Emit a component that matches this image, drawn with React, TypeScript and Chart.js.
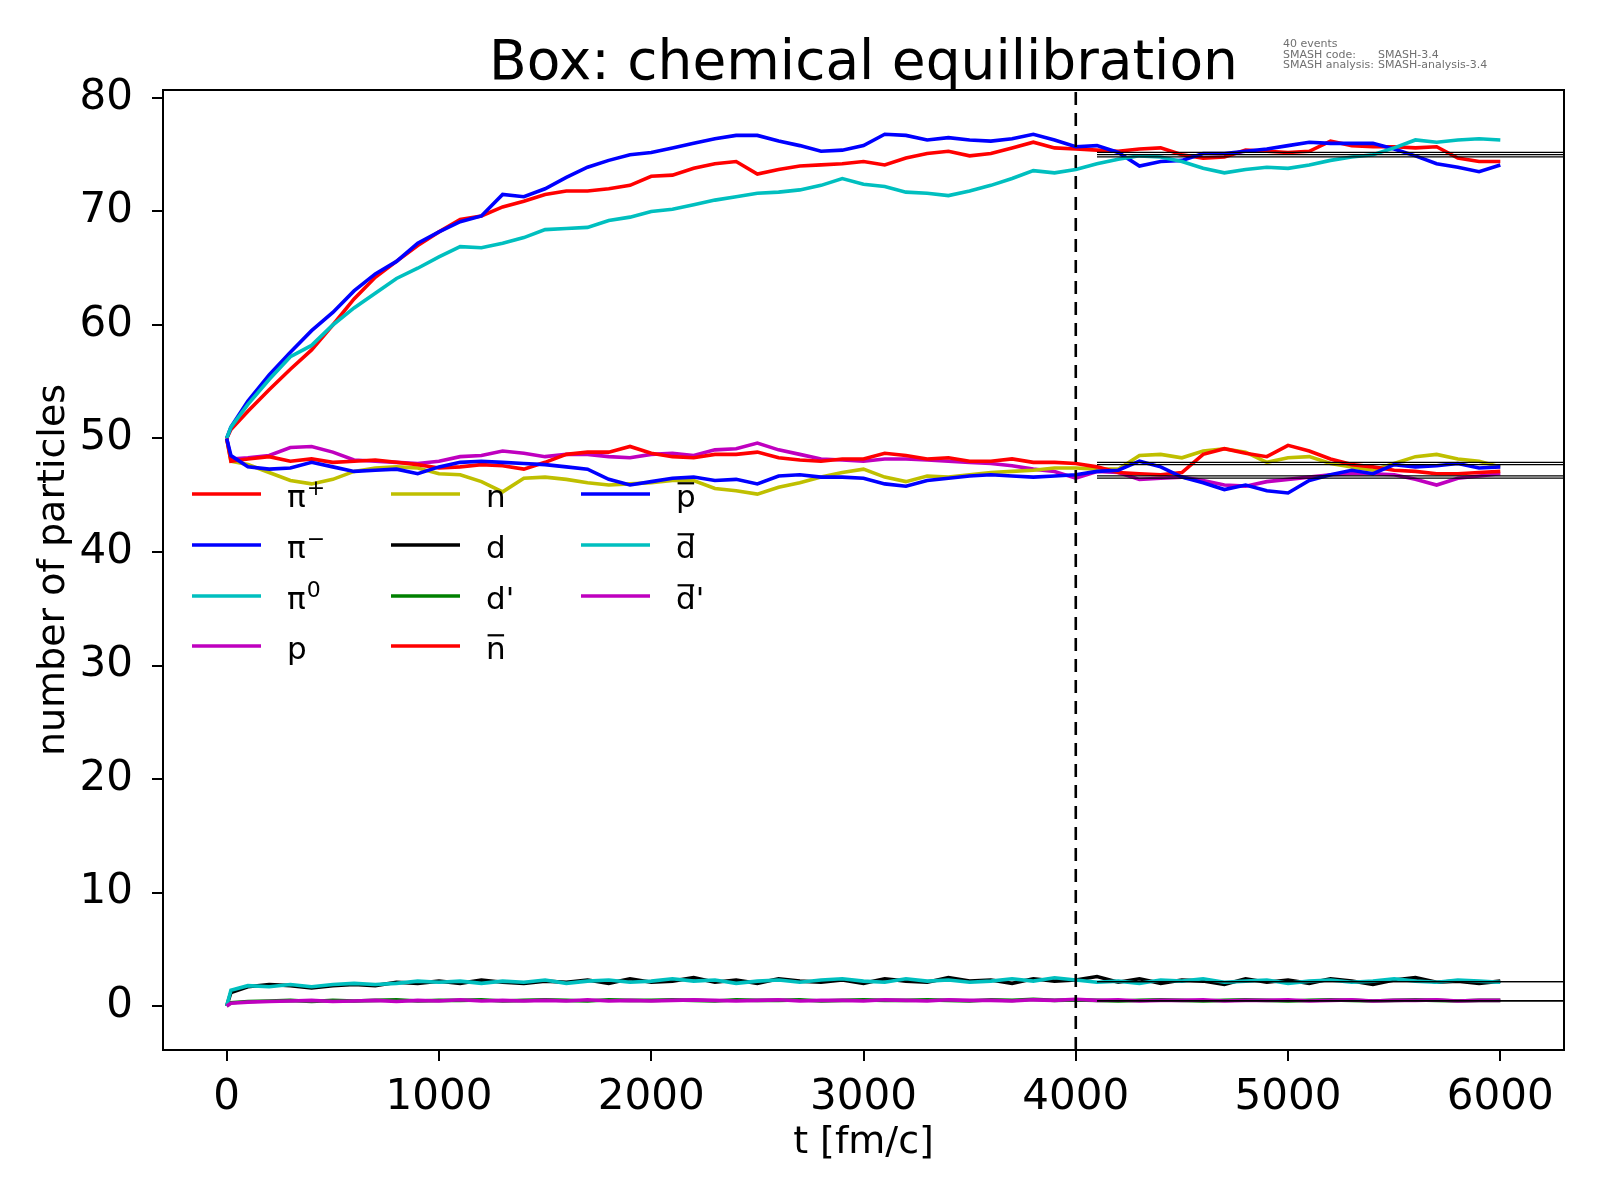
import { useEffect, useRef } from "react";
import { Chart, registerables } from "chart.js";

Chart.register(...registerables);

// time axis (fm/c)
const times = [
  0, 20,
  100, 200, 300, 400, 500, 600, 700, 800, 900, 1000,
  1100, 1200, 1300, 1400, 1500, 1600, 1700, 1800, 1900, 2000,
  2100, 2200, 2300, 2400, 2500, 2600, 2700, 2800, 2900, 3000,
  3100, 3200, 3300, 3400, 3500, 3600, 3700, 3800, 3900, 4000,
  4100, 4200, 4300, 4400, 4500, 4600, 4700, 4800, 4900, 5000,
  5100, 5200, 5300, 5400, 5500, 5600, 5700, 5800, 5900, 6000,
];

const piPlus = [
  50, 50.8,
  52.4, 54.3, 56.1, 57.8, 60.0, 62.3, 64.2, 65.6, 67.0, 68.2,
  69.3, 69.6, 70.4, 70.9, 71.5, 71.8, 71.8, 72.0, 72.3, 73.1,
  73.2, 73.8, 74.2, 74.4, 73.3, 73.7, 74.0, 74.1, 74.2, 74.4,
  74.1, 74.7, 75.1, 75.3, 74.9, 75.1, 75.6, 76.1, 75.6, 75.5,
  75.4, 75.3, 75.5, 75.6, 75.0, 74.7, 74.8, 75.4, 75.3, 75.2,
  75.3, 76.2, 75.8, 75.7, 75.7, 75.6, 75.7, 74.7, 74.4, 74.4,
];
const piMinus = [
  50, 51.0,
  53.3, 55.6, 57.6, 59.5, 61.1, 63.0, 64.5, 65.6, 67.2, 68.2,
  69.1, 69.6, 71.5, 71.3, 72.0, 73.0, 73.9, 74.5, 75.0, 75.2,
  75.6, 76.0, 76.4, 76.7, 76.7, 76.2, 75.8, 75.3, 75.4, 75.8,
  76.8, 76.7, 76.3, 76.5, 76.3, 76.2, 76.4, 76.8, 76.3, 75.7,
  75.8, 75.2, 74.0, 74.4, 74.5, 75.1, 75.1, 75.3, 75.5, 75.8,
  76.1, 76.0, 76.0, 76.0, 75.5, 74.9, 74.2, 73.9, 73.5, 74.1,
];
const piZero = [
  50, 51.0,
  53.0, 55.2, 57.2, 58.2, 60.0, 61.5, 62.8, 64.1, 65.0, 66.0,
  66.9, 66.8, 67.2, 67.7, 68.4, 68.5, 68.6, 69.2, 69.5, 70.0,
  70.2, 70.6, 71.0, 71.3, 71.6, 71.7, 71.9, 72.3, 72.9, 72.4,
  72.2, 71.7, 71.6, 71.4, 71.8, 72.3, 72.9, 73.6, 73.4, 73.7,
  74.2, 74.6, 74.9, 74.8, 74.4, 73.8, 73.4, 73.7, 73.9, 73.8,
  74.1, 74.5, 74.8, 75.0, 75.6, 76.3, 76.1, 76.3, 76.4, 76.3,
];
const proton = [
  50, 48.2,
  48.3, 48.5, 49.2, 49.3, 48.8, 48.1, 48.0, 47.9, 47.8, 48.0,
  48.4, 48.5, 48.9, 48.7, 48.4, 48.6, 48.6, 48.4, 48.3, 48.6,
  48.7, 48.5, 49.0, 49.1, 49.6, 49.0, 48.6, 48.2, 48.1, 48.0,
  48.2, 48.2, 48.1, 48.0, 47.9, 47.8, 47.6, 47.3, 47.1, 46.5,
  47.1, 47.0, 46.4, 46.5, 46.6, 46.3, 45.9, 45.8, 46.2, 46.4,
  46.6, 46.8, 46.9, 46.9, 46.8, 46.4, 45.9, 46.5, 46.7, 46.9,
];
const neutron = [
  50, 48.0,
  47.7, 47.0, 46.3, 46.0, 46.4, 47.1, 47.4, 47.5, 47.4, 46.9,
  46.8, 46.2, 45.3, 46.5, 46.6, 46.4, 46.1, 45.9, 46.0, 46.1,
  46.3, 46.3, 45.6, 45.4, 45.1, 45.7, 46.1, 46.6, 47.0, 47.3,
  46.6, 46.2, 46.7, 46.6, 46.8, 47.0, 47.1, 47.2, 47.4, 47.4,
  47.3, 47.3, 48.5, 48.6, 48.3, 48.9, 49.1, 48.8, 47.9, 48.3,
  48.4, 47.8, 47.5, 47.2, 47.8, 48.4, 48.6, 48.2, 48.0, 47.5,
];
const deuteron = [
  0, 1.2,
  1.7, 1.9, 1.8, 1.6, 1.8, 1.9, 1.8, 2.1, 2.0, 2.2,
  2.0, 2.3, 2.1, 2.0, 2.2, 2.1, 2.3, 2.0, 2.4, 2.1,
  2.2, 2.5, 2.1, 2.3, 2.0, 2.4, 2.2, 2.1, 2.3, 2.0,
  2.4, 2.2, 2.1, 2.5, 2.2, 2.3, 2.0, 2.4, 2.2, 2.3,
  2.6, 2.1, 2.4, 2.0, 2.3, 2.2, 1.9, 2.4, 2.1, 2.3,
  2.0, 2.4, 2.2, 1.9, 2.3, 2.5, 2.1, 2.2, 2.0, 2.2,
];
const deuteronPrime = [
  0, 0.3,
  0.4, 0.45, 0.5, 0.4, 0.5, 0.45, 0.5, 0.55, 0.45, 0.5,
  0.5, 0.55, 0.45, 0.5, 0.55, 0.5, 0.45, 0.55, 0.5, 0.5,
  0.55, 0.5, 0.45, 0.55, 0.5, 0.5, 0.55, 0.45, 0.5, 0.55,
  0.5, 0.5, 0.55, 0.5, 0.45, 0.55, 0.5, 0.6, 0.5, 0.55,
  0.5, 0.45, 0.5, 0.55, 0.5, 0.45, 0.5, 0.55, 0.5, 0.45,
  0.5, 0.55, 0.5, 0.45, 0.5, 0.55, 0.5, 0.45, 0.5, 0.5,
];
const antiNeutron = [
  50, 48.0,
  48.2, 48.4, 48.0, 48.2, 47.9, 48.0, 48.1, 47.9, 47.7, 47.4,
  47.5, 47.7, 47.6, 47.3, 47.9, 48.6, 48.8, 48.8, 49.3, 48.7,
  48.4, 48.3, 48.6, 48.6, 48.8, 48.3, 48.1, 48.0, 48.2, 48.2,
  48.7, 48.5, 48.2, 48.3, 48.0, 48.0, 48.2, 47.9, 47.9, 47.8,
  47.5, 47.0, 46.9, 46.8, 47.0, 48.6, 49.1, 48.7, 48.4, 49.4,
  48.9, 48.2, 47.7, 47.5, 47.2, 47.1, 46.9, 46.9, 47.0, 47.1,
];
const antiProton = [
  50, 48.5,
  47.5, 47.3, 47.4, 47.9, 47.5, 47.1, 47.2, 47.3, 46.9, 47.5,
  47.9, 48.0, 47.9, 47.8, 47.7, 47.5, 47.3, 46.4, 45.9, 46.2,
  46.5, 46.6, 46.3, 46.4, 46.0, 46.7, 46.8, 46.6, 46.6, 46.5,
  46.0, 45.8, 46.3, 46.5, 46.7, 46.8, 46.7, 46.6, 46.7, 46.8,
  47.1, 47.2, 48.0, 47.5, 46.6, 46.1, 45.5, 45.9, 45.4, 45.2,
  46.3, 46.8, 47.2, 46.9, 47.7, 47.5, 47.6, 47.8, 47.4, 47.5,
];
const antiDeuteron = [
  0, 1.4,
  1.8, 1.7, 1.9, 1.7, 1.9, 2.0, 1.9, 2.0, 2.2, 2.1,
  2.2, 2.0, 2.2, 2.1, 2.3, 2.0, 2.2, 2.3, 2.1, 2.2,
  2.4, 2.2, 2.3, 2.0, 2.2, 2.3, 2.1, 2.3, 2.4, 2.2,
  2.1, 2.4, 2.2, 2.3, 2.1, 2.2, 2.4, 2.2, 2.5, 2.3,
  2.1, 2.2, 2.0, 2.3, 2.2, 2.4, 2.1, 2.2, 2.3, 2.0,
  2.2, 2.3, 2.1, 2.2, 2.4, 2.2, 2.1, 2.3, 2.2, 2.1,
];
const antiDeuteronPrime = [
  0, 0.25,
  0.35, 0.4, 0.45, 0.5, 0.4, 0.45, 0.5, 0.4, 0.5, 0.45,
  0.55, 0.45, 0.5, 0.45, 0.5, 0.45, 0.55, 0.45, 0.5, 0.45,
  0.5, 0.55, 0.5, 0.45, 0.5, 0.55, 0.45, 0.5, 0.5, 0.45,
  0.55, 0.5, 0.45, 0.55, 0.5, 0.5, 0.45, 0.55, 0.5, 0.6,
  0.5, 0.55, 0.45, 0.5, 0.5, 0.55, 0.45, 0.5, 0.5, 0.55,
  0.45, 0.5, 0.55, 0.45, 0.5, 0.5, 0.55, 0.45, 0.5, 0.5,
];

const species = ["π⁺", "π⁻", "π⁰", "p", "n", "d", "d'", "n\u0305", "p\u0305", "d\u0305", "d\u0305'"];
const seriesValues = [
  piPlus, piMinus, piZero, proton, neutron, deuteron, deuteronPrime,
  antiNeutron, antiProton, antiDeuteron, antiDeuteronPrime,
];
const colors = ["#ff0000", "#0000ff", "#00bfbf", "#bf00bf", "#bfbf00", "#000000", "#008000",
  "#ff0000", "#0000ff", "#00bfbf", "#bf00bf"];
// equilibrium values (thin black lines on the right)
const eqLevels = [75.0, 75.2, 74.8, 46.5, 47.9, 2.15, 0.47, 47.7, 46.7, 2.15, 0.47];
const eqStart = 4100;
const boundaryTime = 4000;

const xTicks = [0, 1000, 2000, 3000, 4000, 5000, 6000];
const yTicks = [0, 10, 20, 30, 40, 50, 60, 70, 80];
const xMin = -300, xMax = 6300;
const yMin = -3.87, yMax = 80.7;

const infoLines = [
  ["40 events", ""],
  ["SMASH code:", "SMASH-3.4"],
  ["SMASH analysis:", "SMASH-analysis-3.4"],
];

const FONT = "DejaVu Sans";
const supMap: Record<string, string> = { "⁺": "+", "⁻": "−", "⁰": "0" };

function drawLabel(ctx: CanvasRenderingContext2D, text: string, x: number, baseline: number, fs: number) {
  const chars = Array.from(text);
  let cx = x;
  for (let k = 0; k < chars.length; k++) {
    const ch = chars[k];
    if (ch === "\u0305") continue;
    const barred = chars[k + 1] === "\u0305";
    if (supMap[ch]) {
      const s = supMap[ch];
      ctx.font = `${Math.round(fs * 0.7)}px "${FONT}"`;
      ctx.fillText(s, cx + 1, baseline - fs * 0.4);
      cx += ctx.measureText(s).width + 1;
    } else {
      ctx.font = `${fs}px "${FONT}"`;
      ctx.fillText(ch, cx, baseline);
      const w = ctx.measureText(ch).width;
      if (barred) ctx.fillRect(cx + w * 0.08, baseline - fs * 0.8, w * 0.84, 2.2);
      cx += w;
    }
  }
}

const decorPlugin = {
  id: "decor",
  afterDatasetsDraw(chart: Chart) {
    const { ctx, chartArea } = chart;
    ctx.save();
    // frame
    ctx.strokeStyle = "#000";
    ctx.lineWidth = 2;
    ctx.strokeRect(chartArea.left, chartArea.top, chartArea.right - chartArea.left, chartArea.bottom - chartArea.top);

    // legend (3 columns, filled column by column)
    const colX = [192, 391, 581];
    const rowY = [494, 545, 596, 646];
    const fs = 31;
    ctx.textBaseline = "alphabetic";
    ctx.textAlign = "left";
    species.forEach((lab, i) => {
      const col = Math.floor(i / 4);
      const row = i % 4;
      const x = colX[col];
      const y = rowY[row];
      ctx.strokeStyle = colors[i];
      ctx.lineWidth = 3.5;
      ctx.beginPath();
      ctx.moveTo(x, y);
      ctx.lineTo(x + 69, y);
      ctx.stroke();
      ctx.fillStyle = "#000";
      drawLabel(ctx, lab, x + 95, y + 13, fs);
    });

    // title
    ctx.fillStyle = "#000";
    ctx.font = `55px "${FONT}"`;
    ctx.textAlign = "center";
    ctx.fillText("Box: chemical equilibration", (chartArea.left + chartArea.right) / 2, 79);

    // run info
    ctx.fillStyle = "#707070";
    ctx.font = `11px "${FONT}"`;
    ctx.textAlign = "left";
    infoLines.forEach(([a, b], i) => {
      const y = 47 + i * 10.5;
      ctx.fillText(a, 1283, y);
      if (b) ctx.fillText(b, 1378, y);
    });
    ctx.restore();
  },
};

export default function App() {
  const canvasRef = useRef<HTMLCanvasElement>(null);
  const chartRef = useRef<Chart | null>(null);

  useEffect(() => {
    if (!canvasRef.current) return;
    if (chartRef.current) chartRef.current.destroy();

    Chart.defaults.font.family = FONT;
    Chart.defaults.color = "#000";

    const n = species.length;
    const curveSets = species.map((lab, i) => ({
      label: lab,
      data: times.map((t, j) => ({ x: t, y: seriesValues[i][j] })),
      borderColor: colors[i],
      borderWidth: 3.6,
      pointRadius: 0,
      tension: 0,
      order: n - i + 20,
    }));
    const eqSets = eqLevels.map((v, i) => ({
      label: "eq " + species[i],
      data: [{ x: eqStart, y: v }, { x: xMax, y: v }],
      borderColor: "#000",
      borderWidth: 1.3,
      pointRadius: 0,
      order: 5,
    }));
    const dashSet = {
      label: "boundary",
      data: [{ x: boundaryTime, y: yMin }, { x: boundaryTime, y: yMax }],
      borderColor: "#000",
      borderWidth: 2.6,
      borderDash: [13, 8],
      pointRadius: 0,
      order: 1,
    };

    chartRef.current = new Chart(canvasRef.current, {
      type: "line",
      data: { datasets: [...curveSets, ...eqSets, dashSet] as any },
      options: {
        animation: false,
        responsive: true,
        maintainAspectRatio: false,
        layout: { padding: { left: 0, top: 90, right: 36, bottom: 0 }, autoPadding: false },
        plugins: {
          legend: { display: false },
          title: { display: false },
          tooltip: { enabled: false },
        },
        scales: {
          x: {
            type: "linear",
            min: xMin,
            max: xMax,
            afterFit: (s: any) => { s.height = 150; },
            afterBuildTicks: (s: any) => { s.ticks = xTicks.map((v) => ({ value: v })); },
            ticks: {
              font: { size: 42 },
              color: "#000",
              padding: 12,
              maxRotation: 0,
              callback: (v: any) => String(v),
            },
            grid: { display: true, drawOnChartArea: false, drawTicks: true, tickLength: 11, color: "#000", lineWidth: 2 },
            border: { display: true, color: "#000", width: 2 },
            title: {
              display: true,
              text: "t [fm/c]",
              font: { size: 38 },
              color: "#000",
              padding: { top: 0, bottom: 34 },
            },
          },
          y: {
            type: "linear",
            min: yMin,
            max: yMax,
            afterFit: (s: any) => { s.width = 163; },
            afterBuildTicks: (s: any) => { s.ticks = yTicks.map((v) => ({ value: v })); },
            ticks: {
              font: { size: 42 },
              color: "#000",
              padding: 19,
              callback: (v: any) => String(v),
            },
            grid: { display: true, drawOnChartArea: false, drawTicks: true, tickLength: 11, color: "#000", lineWidth: 2 },
            border: { display: true, color: "#000", width: 2 },
            title: {
              display: true,
              text: "number of particles",
              font: { size: 38 },
              color: "#000",
              padding: { top: 31, bottom: 0 },
            },
          },
        },
      },
      plugins: [decorPlugin],
    });

    return () => {
      if (chartRef.current) {
        chartRef.current.destroy();
        chartRef.current = null;
      }
    };
  }, []);

  return (
    <div style={{ position: "fixed", left: 0, top: 0, width: 1600, height: 1200, background: "#fff" }}>
      <canvas ref={canvasRef} />
    </div>
  );
}
